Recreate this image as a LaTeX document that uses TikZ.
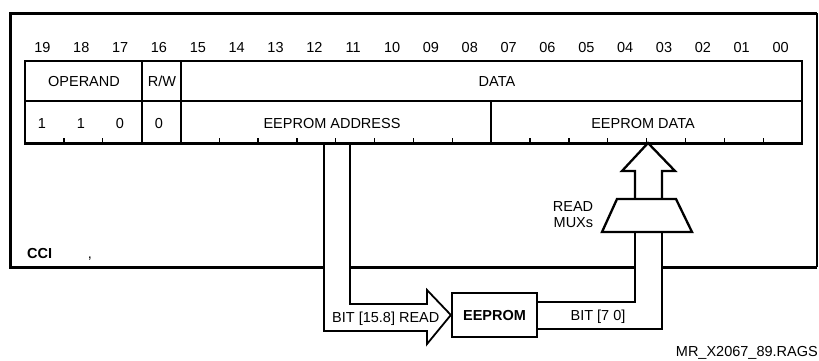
\documentclass[tikz,border=0pt]{standalone}
\usepackage{fontspec}
\setmainfont{Liberation Sans}
\begin{document}
\begin{tikzpicture}[x=1pt,y=-1pt,
  font=\fontsize{14.5}{16}\selectfont,
  heavy/.style={line width=3pt},
  midline/.style={line width=1.8pt},
  thinline/.style={line width=1.3pt},
  lbl/.style={inner sep=0pt, anchor=base},
  boxnode/.style={draw, line width=2.3pt, minimum width=85pt, minimum height=44pt, inner sep=0pt}]
\useasboundingbox (0,0) rectangle (819,360);
% outer frame
\draw[heavy, line join=miter] (324,267) -- (10,267) -- (10,13) -- (817,13);
\draw[thinline] (817,13) -- (817,267);
\draw[heavy] (817,267) -- (662,267);
\draw[heavy] (635,267) -- (350,267);
% register
\draw[midline] (25,61) rectangle (802,143);
\draw[midline] (25,101) -- (802,101);
\draw[midline] (142,61) -- (142,143);
\draw[midline] (181,61) -- (181,143);
\draw[midline] (491,101) -- (491,143);
\draw[heavy] (24,143) -- (803,143);
\foreach \k in {1,2,5,6,7,8,9,10,11,13,14,15,16,17,18,19}
  \draw[thinline] (25+\k*38.85,143) -- ++(0,-5);
% bit numbers
\foreach \i in {0,...,19}
  \node[lbl] (bit\i) at ({25+(19-\i+0.5)*38.85-2},52) {\ifnum\i<10 0\fi\i};
% row texts
\node[lbl] (operand) at (84,86) {OPERAND};
\node[lbl] (rw) at (162,86) {R/W};
\node[lbl] (data) at (497,86) {DATA};
\node[lbl] (v19) at (42,128) {1};
\node[lbl] (v18) at (81,128) {1};
\node[lbl] (v17) at (120,128) {0};
\node[lbl] (v16) at (159,128) {0};
\node[lbl] (addr) at (332,128) {EEPROM ADDRESS};
\node[lbl] (edata) at (643,128) {EEPROM DATA};
% EEPROM box
\node[boxnode] (eeprom) at (494.5,315) {\bfseries EEPROM};
% address hollow arrow
\coordinate (tipA) at (eeprom.west);
\draw[midline, line join=miter] (324,143) -- (324,331) -- (427,331) -- (427,344) -- (tipA) -- (427,290) -- (427,304) -- (350,304) -- (350,143);
\node[lbl, anchor=base west] (bitread) at (332,322) {BIT [15.8] READ};
% data path
\draw[midline] (eeprom.east |- 0,302) -- (635,302) -- (635,232);
\draw[midline] (eeprom.east |- 0,329) -- (662,329) -- (662,232);
\node[lbl] (bit70) at (598,320) {BIT [7 0]};
% mux
\draw[line width=2.3pt, line join=miter] (602,232) -- (617,199) -- (676,199) -- (692,232) -- cycle;
\node[align=right, inner sep=0pt, font=\fontsize{14.5}{16}\selectfont] (mux) at (573,215) {READ\\MUXs};
% up arrow
\coordinate (tipB) at (648,143);
\draw[line width=2.3pt, line join=miter] (635,199) -- (635,171) -- (622,171) -- (tipB) -- (675,171) -- (662,171) -- (662,199);
% labels
\node[lbl, anchor=base west] (cci) at (27,258) {\bfseries CCI};
\node[lbl] (comma) at (90,258) {,};
\node[lbl, anchor=base east] (ref) at (818,356) {MR\_X2067\_89.RAGS};
\end{tikzpicture}
\end{document}
